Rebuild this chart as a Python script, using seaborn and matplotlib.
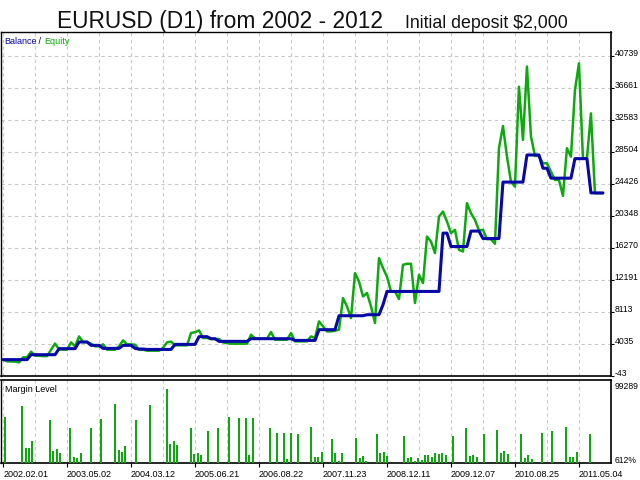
import matplotlib
matplotlib.use("Agg")
import matplotlib.pyplot as plt
import seaborn as sns
import numpy as np
import pandas as pd

# ---------------- data ----------------
balance = [2000, 2000, 2000, 2000, 2000, 2000, 2000,
           2630, 2630, 2630, 2630, 2630, 2630, 2630,
           3400, 3400, 3400, 3400, 3400,
           4250, 4250, 4250,
           3820, 3820, 3820,
           3435, 3435, 3435, 3435, 3435,
           3820, 3820, 3820,
           3435, 3350, 3350,
           3300, 3300, 3300, 3300, 3300, 3300, 3300,
           3945, 3945, 3945, 3945, 3945, 3945,
           4930, 4930, 4930,
           4670, 4670,
           4330, 4330, 4330, 4330, 4330, 4330, 4330, 4330,
           4670, 4670, 4670, 4670, 4670, 4670, 4670, 4670, 4670, 4670, 4670,
           4450, 4450, 4450, 4450, 4450, 4450,
           5820, 5820, 5820, 5820, 5820,
           7600, 7600, 7600, 7600, 7600, 7600, 7600,
           7730, 7730, 7730, 7730,
           9000,
           10700, 10700, 10700, 10700, 10700, 10700, 10700, 10700, 10700, 10700, 10700, 10700, 10700, 10700,
           18140, 18140,
           16430, 16430, 16430, 16430, 16430,
           18400, 18400, 18400,
           17450, 17450, 17450, 17450, 17450,
           24650, 24650, 24650, 24650, 24650, 24650,
           28110, 28110, 28110, 28110,
           26420, 26420,
           25150, 25150, 25150, 25150, 25150, 25150,
           27640, 27640, 27640, 27640,
           23270, 23270, 23270, 23270]

equity = [2000, 1780, 1760, 1750, 1650, 2290, 2300, 3010, 2500, 2500,
          2450, 2450, 3270, 4050, 3300, 3270, 3270, 4200, 3700, 4960,
          4250, 4250, 4035, 3700, 3700, 3950, 3270, 3270, 3270, 3700,
          4450, 3950, 3950, 3900, 3270, 3270, 3140, 3140, 3140, 3140,
          3500, 4200, 4300, 3820, 3820, 3820, 3820, 5400, 5500, 5730,
          4760, 4760, 4630, 4630, 4630, 4200, 4100, 4035, 4035, 4035,
          4035, 4035, 5180, 4700, 4670, 4670, 4670, 5520, 4540, 4540,
          4540, 4540, 5400, 4330, 4330, 4330, 4330, 4960, 4760, 6880,
          6240, 5600, 5600, 5700, 5820, 9850, 8790, 7300, 13040, 11970,
          10060, 10500, 8790, 6670, 14950, 13680, 12580, 10700, 10700, 9730,
          14100, 14230, 14230, 9220, 12830, 11770, 17700, 17070, 15590, 20250,
          20890, 19620, 18140, 18560, 16010, 15800, 21960, 20680, 19830, 18480,
          18560, 17370, 17370, 16780, 28970, 31810, 27900, 24710, 24070, 36820,
          30030, 39400, 30500, 27990, 27990, 27050, 27050, 25990, 24930, 24930,
          22890, 28970, 27900, 36400, 39800, 27680, 27680, 33420, 23230, 23230,
          23230]

margin_trade = [0.4, 4.75, 5.75, 6.4, 7.25, 11.75, 12.4, 13.4, 14.25, 16.75,
                17.75, 18.5, 19.5, 22, 24.5, 28, 29, 29.75, 30.5, 33.25,
                36.75, 41, 41.75, 42.75, 43.5, 47, 47.75, 48.75, 49.5, 51.25,
                53.75, 56.5, 59, 60.75, 61.5, 62.5, 66.75, 68.5, 70.25, 71,
                72, 73.75, 77, 78, 78.75,
                79.75, 82.25, 83, 84, 84.75, 88.25, 89.25, 90, 90.75, 93.5,
                94.25, 95.25, 96, 100.25, 101.25, 102, 103, 103.75, 104.75, 105.5,
                106.25, 107.25, 108, 109, 109.75, 110.75, 112.5, 115.75, 116.75, 117.5,
                118.5, 120.25, 123.5, 124.5, 125.25, 126.25, 129.5, 130.5, 131.25, 132.25,
                134.75, 137.25, 140.75, 141.75, 142.5, 143.5, 146.75]

margin_level = [63050, 77220, 21600, 21600, 30430, 58500, 17060, 19730, 14380, 48340,
                9570, 8230, 14380, 48340, 59840, 79900, 18390, 15720, 24280, 58500,
                78560, 99289, 26420, 30430, 25080, 48340, 13050, 14380, 11710, 43800,
                48340, 63050, 61710, 61710, 11710, 61710, 48340, 41660, 41660, 6360,
                41660, 39790, 49680, 9570, 9570,
                15720, 33640, 14380, 3690, 14380, 34970, 7700, 10370, 3690, 39790,
                14380, 15720, 10370, 37110, 7700, 9030, 3690, 7700, 5020, 11710,
                11710, 9030, 14380, 13050, 14380, 11710, 37110, 47810, 10370, 11710,
                9030, 39790, 45130, 14380, 17060, 13050, 39790, 7700, 11710, 6360,
                41120, 43800, 49150, 9030, 9030, 15720, 39790]

date_labels = ["2002.02.01", "2003.05.02", "2004.03.12", "2005.06.21", "2006.08.22",
               "2007.11.23", "2008.12.11", "2009.12.07", "2010.08.25", "2011.05.04"]
date_ticks = [0, 16, 32, 48, 64, 80, 96, 112, 128, 144]
grid_minor = [8, 24, 40, 56, 72, 88, 104, 120, 136, 152]

y_ticks = [-43, 4035, 8113, 12191, 16270, 20348, 24426, 28504, 32583, 36661, 40739]
margin_ticks = [612, 99289]
margin_tick_labels = ["612%", "99289"]

# ---------------- style ----------------
BLUE = "#0808a8"
GREEN = "#10a810"
GRID = "#c8c8c8"
FS = 6.2

sns.set_style("white")
plt.rcParams["font.family"] = ["Liberation Sans", "DejaVu Sans"]

fig = plt.figure(figsize=(6.4, 4.8), dpi=100)
ax = fig.add_axes([0.0023, 0.2160, 0.9523, 0.71735])
axm = fig.add_axes([0.0023, 0.0348, 0.9523, 0.1745])

df = pd.DataFrame({"trade": np.arange(len(balance)),
                   "Balance": balance, "Equity": equity})

sns.lineplot(data=df, x="trade", y="Equity", ax=ax, color=GREEN,
             linewidth=1.8, zorder=3)
sns.lineplot(data=df, x="trade", y="Balance", ax=ax, color=BLUE,
             linewidth=2.2, zorder=4)

xlim = (-0.4, 152)
dash = (0, (3, 3))

# main panel
ax.set_xlim(*xlim)
ax.set_ylim(-130, 43800)
ax.set_xlabel("")
ax.set_ylabel("")
ax.set_xticks(date_ticks)
ax.set_xticks(grid_minor, minor=True)
ax.tick_params(axis="x", which="both", length=0, labelbottom=False)
ax.yaxis.tick_right()
ax.set_yticks(y_ticks)
ax.set_yticklabels([str(v) for v in y_ticks])
ax.tick_params(axis="y", which="major", length=2, width=0.8, pad=0.6,
               labelsize=FS, colors="black", direction="out", right=True)
for t in ax.get_yticklabels():
    t.set_va("baseline")
ax.grid(True, which="both", axis="x", color=GRID, linestyle=dash, linewidth=0.8)
ax.grid(True, which="major", axis="y", color=GRID, linestyle=dash, linewidth=0.8)
for s in ax.spines.values():
    s.set_color("black")
    s.set_linewidth(1.0)
ax.spines["bottom"].set_linewidth(1.2)
ax.spines["right"].set_linewidth(1.2)

# legend-like label
t1 = ax.text(0.004, 0.9646, "Balance", transform=ax.transAxes, color=BLUE,
             fontsize=6.5, va="baseline", ha="left")
t2 = ax.annotate(" / ", xy=(1, 0), xycoords=t1, color="black",
                 fontsize=6.5, va="bottom", ha="left")
t3 = ax.annotate("Equity", xy=(1, 0), xycoords=t2, color=GREEN,
                 fontsize=6.5, va="bottom", ha="left")

# margin panel
axm.bar(margin_trade, margin_level, width=0.5, color=GREEN, linewidth=0, zorder=3)
axm.set_xlim(*xlim)
axm.set_ylim(612, 112500)
axm.set_xticks(date_ticks)
axm.set_xticklabels(date_labels)
axm.set_xticks(grid_minor, minor=True)
axm.tick_params(axis="x", which="major", length=3, width=0.8, pad=1.5,
                labelsize=6.5, colors="black", direction="out", bottom=True)
axm.tick_params(axis="x", which="minor", length=0)
for t in axm.get_xticklabels():
    t.set_ha("left")
axm.yaxis.tick_right()
axm.set_yticks(margin_ticks)
axm.set_yticklabels(margin_tick_labels)
axm.tick_params(axis="y", length=0, pad=2.6, labelsize=FS, colors="black")
for t in axm.get_yticklabels():
    t.set_va("baseline")
axm.grid(True, which="both", axis="x", color=GRID, linestyle=dash, linewidth=0.8)
axm.grid(False, axis="y")
for s in axm.spines.values():
    s.set_color("black")
    s.set_linewidth(1.0)
axm.spines["top"].set_linewidth(1.2)
axm.spines["bottom"].set_linewidth(1.2)
axm.spines["right"].set_linewidth(1.2)
axm.text(0.0054, 0.855, "Margin Level", transform=axm.transAxes,
         fontsize=6.5, va="baseline", ha="left", color="black")

# titles
fig.text(0.344, 1 - 27.8 / 480, "EURUSD (D1) from 2002 - 2012",
         family=["Liberation Sans Narrow", "Liberation Sans"], fontsize=16.4,
         ha="center", va="baseline", color="#111111")
fig.text(405 / 640, 1 - 27.8 / 480, "Initial deposit $2,000",
         family=["Liberation Sans Narrow", "Liberation Sans"], fontsize=12.8,
         ha="left", va="baseline", color="#111111")

fig.savefig("out.png", dpi=100)
